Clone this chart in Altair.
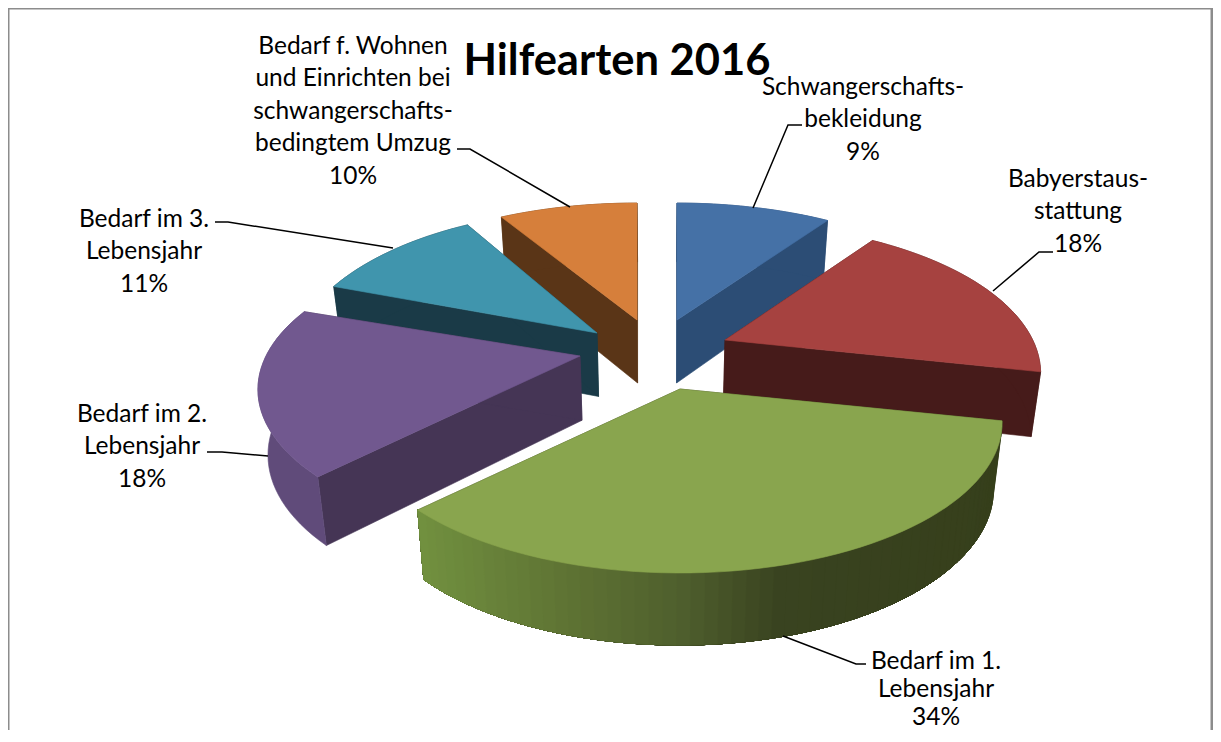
import math
import altair as alt

# ---- values ----
names = ["Schwangerschafts-\nbekleidung", "Babyerstaus-\nstattung", "Bedarf im 1.\nLebensjahr",
         "Bedarf im 2.\nLebensjahr", "Bedarf im 3.\nLebensjahr",
         "Bedarf f. Wohnen\nund Einrichten bei\nschwangerschafts-\nbedingtem Umzug"]
percent_labels = [9, 18, 34, 18, 11, 10]
# sweep of each slice as it is actually drawn in the picture, in percent of the circle
drawn_share = [9.6, 18.8, 34.0, 18.0, 11.0, 8.6]
top_colors = ["#4571a6", "#a64240", "#89a54e", "#71588f", "#4095ad", "#d67f3b"]
face_colors = ["#2c4d75", "#461b1a", "#363f1b", "#453555", "#1a3a47", "#5a3517"]
wall_colors = ["#2c4d75", "#461b1a", None, "#604b7a", "#1a3a47", "#5a3517"]
green_wall_stops = [(420, "#71903f"), (560, "#5f7434"), (680, "#4f5f2d"), (780, "#394320"), (1010, "#363f1b")]
paint_order = [0, 5, 4, 1, 3, 2]
label_x = [863, 1078, 936, 142, 144, 353]
label_top = [76, 168, 650, 403, 208, 35]
title_text = "Hilfearten 2016"

leaders = [
    [(753, 208), (788, 125), (802, 125)],
    [(993, 291), (1039, 252), (1053, 252)],
    [(783, 636), (856, 664), (866, 664)],
    [(268, 456), (222, 452), (207, 452)],
    [(393, 248), (228, 222), (215, 222)],
    [(570, 207), (470, 149), (457, 149)],
]

# ---- layout ----
W, H = 1205, 722
OX, OY = 8, 8           # page margin: scales below work in page pixels
AL, BE, P = 314, 143, 0.2227   # tilted circle (horizontal, vertical, perspective)
apexes = [(677, 320), (725, 340), (680, 389), (580, 356), (597, 333), (637, 320)]
radius_scale = [(1, 1), (0.98, 1), (1, 1), (1, 1), (0.955, 1.05), (1, 1)]


def rim(theta):
    u, v = math.sin(theta), math.cos(theta)
    d = 1 + P * v
    return AL * u / d, -BE * v / d


def lower(pt):
    x, y = pt
    return 660 + (x - 660) * 0.975, y + 63 + 0.036 * (y - 320)


def hex_mix(c1, c2, t):
    a = [int(c1[i:i + 2], 16) for i in (1, 3, 5)]
    b = [int(c2[i:i + 2], 16) for i in (1, 3, 5)]
    return "#" + "".join(f"{round(p + (q - p) * t):02x}" for p, q in zip(a, b))


def green_at(x):
    for (x0, c0), (x1, c1) in zip(green_wall_stops, green_wall_stops[1:]):
        if x <= x1:
            return hex_mix(c0, c1, max(0, (x - x0) / (x1 - x0)))
    return green_wall_stops[-1][1]


def poly(points, color):
    ring = [list(p) for p in points] + [list(points[0])]
    return {"type": "Feature", "properties": {"c": color},
            "geometry": {"type": "Polygon", "coordinates": [ring]}}


def wall(points, color):
    return poly(points + [lower(p) for p in reversed(points)], color)


edges = [0.0]
for s in drawn_share:
    edges.append(edges[-1] + s / sum(drawn_share) * 2 * math.pi)

features = []
for i in paint_order:
    a0, a1 = edges[i], edges[i + 1]
    ax, ay = apexes[i]
    sx, sy = radius_scale[i]
    n = max(6, int((a1 - a0) / math.radians(2)))
    arc = []
    for k in range(n + 1):
        dx, dy = rim(a0 + (a1 - a0) * k / n)
        arc.append((ax + dx * sx, ay + dy * sy))
    apex = (ax, ay)
    # hidden and visible radial faces first, then the outer wall, then the top
    features.append(poly([apex, arc[0], lower(arc[0]), lower(apex)], face_colors[i]))
    features.append(poly([apex, arc[-1], lower(arc[-1]), lower(apex)], face_colors[i]))
    if wall_colors[i]:
        features.append(wall(arc, wall_colors[i]))
    else:
        for k in range(n):
            features.append(wall(arc[k:], green_at((arc[k][0] + arc[k + 1][0]) / 2)))
    features.append(poly([apex] + arc, top_colors[i]))

shapes = alt.Chart(alt.Data(values=features)).mark_geoshape(strokeWidth=0.6).encode(
    fill=alt.Color("properties.c:N", scale=None, legend=None),
    stroke=alt.Color("properties.c:N", scale=None, legend=None),
).project(type="identity", scale=1, translate=[-OX, -OY])

xs = alt.Scale(domain=[OX, OX + W], range=[0, W])
ys = alt.Scale(domain=[OY, OY + H], range=[0, H])
X = lambda f: alt.X(f, scale=xs, axis=None)
Y = lambda f: alt.Y(f, scale=ys, axis=None)

frame_rows = [{"x": x, "y": y, "o": k} for k, (x, y) in enumerate(
    [(OX, OY + H), (OX, OY), (OX + W - 1, OY), (OX + W - 1, OY + H)])]
frame = alt.Chart(alt.Data(values=frame_rows)).mark_line(color="#8c8c8c", strokeWidth=3, clip=False).encode(
    x=X("x:Q"), y=Y("y:Q"), order="o:Q")

leader_rows = [{"x": x, "y": y, "s": i, "o": k}
               for i, line in enumerate(leaders) for k, (x, y) in enumerate(line)]
leader_layer = alt.Chart(alt.Data(values=leader_rows)).mark_line(color="#000000", strokeWidth=1.5).encode(
    x=X("x:Q"), y=Y("y:Q"), detail="s:N", order="o:Q")

label_rows = [{"t": f"{n}\n{p}%", "x": x, "y": y}
              for n, p, x, y in zip(names, percent_labels, label_x, label_top)]


def label_layer(rows, line_height):
    return alt.Chart(alt.Data(values=rows)).mark_text(
        font="Lato", fontSize=24.5, color="#000000", align="center", baseline="top",
        lineBreak="\n", lineHeight=line_height).encode(x=X("x:Q"), y=Y("y:Q"), text="t:N")


# the label below the pie sits at the page's bottom edge, so its lines are set closer
labels = label_layer(label_rows[:2] + label_rows[3:], 32.4)
bottom_label = label_layer(label_rows[2:3], 28)

title = alt.Chart(alt.Data(values=[{"t": title_text, "x": 617, "y": 62}])).mark_text(
    font="Lato", fontSize=43.5, fontWeight="bold", color="#000000", align="center", baseline="middle"
).encode(x=X("x:Q"), y=Y("y:Q"), text="t:N")

chart = alt.layer(frame, shapes, leader_layer, labels, bottom_label, title).properties(
    width=W, height=H, background="#ffffff",
    padding={"left": 0, "top": 0, "right": 0, "bottom": 0},
    autosize=alt.AutoSizeParams(type="none"),
).configure_view(stroke=None)

chart.save("out.html", embed_options={"renderer": "svg", "actions": False})
